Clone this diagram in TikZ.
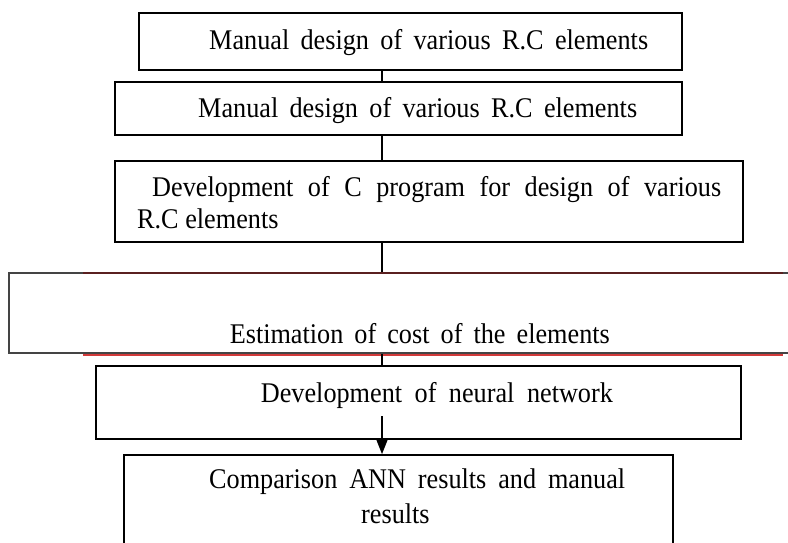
\documentclass[tikz,border=0pt]{standalone}
\usepackage{fontspec}
\setmainfont[FakeStretch=0.92]{Liberation Serif}
\usetikzlibrary{arrows.meta}
\definecolor{edgegrey}{HTML}{444444}
\definecolor{darkred}{HTML}{5A2020}
\definecolor{lightred}{HTML}{D23A3A}
\begin{document}
\begin{tikzpicture}[x=1pt,y=-1pt,
  box/.style={draw=black,line width=1.5pt,rectangle,inner sep=0pt},
  greybox/.style={draw=edgegrey,line width=1.3pt,rectangle,inner sep=0pt},
  txt/.style={anchor=base west,inner sep=0pt,font=\fontsize{28.5}{32}\selectfont},
  conn/.style={draw=black,line width=2pt}]
\useasboundingbox (0,0) rectangle (788,542);
\clip (0,0) rectangle (788,542);
% boxes
\node[box,minimum width=543pt,minimum height=57pt] (b1) at (410.5,41.5) {};
\node[box,minimum width=567pt,minimum height=53pt] (b2) at (398.5,108.5) {};
\node[box,minimum width=628pt,minimum height=81pt] (b3) at (429,201.5) {};
\node[greybox,minimum width=790pt,minimum height=80pt] (b4) at (404,313) {};
\node[box,minimum width=645pt,minimum height=73pt] (b5) at (418.5,402.5) {};
\node[box,minimum width=549pt,minimum height=120pt] (b6) at (398.5,515) {};
% red lines along box 4
\draw[darkred,line width=1.2pt] (83,273) -- (783,273);
\draw[lightred,line width=1.5pt] (83,354.8) -- (783,354.8);
% texts
\node[txt] (t1) at (209,49) {\makebox[439pt][s]{Manual design of various R.C elements}};
\node[txt] (t2) at (198,117.5) {\makebox[439pt][s]{Manual design of various R.C elements}};
\node[txt] (t3a) at (152,196) {\makebox[569pt][s]{Development of C program for design of various}};
\node[txt] (t3b) at (137,228) {R.C elements};
\node[txt] (t4) at (229.6,343) {\makebox[380pt][s]{Estimation of cost of the elements}};
\node[txt] (t5) at (260.7,402) {\makebox[352pt][s]{Development of neural network}};
\node[txt] (t6a) at (209,488) {\makebox[416pt][s]{Comparison ANN results and manual}};
\node[txt] (t6b) at (361,523) {results};
% connectors
\coordinate (cx) at (382,0);
\draw[conn] (b1.south -| cx) -- (b2.north -| cx);
\draw[conn] (b2.south -| cx) -- (b3.north -| cx);
\draw[conn] (b3.south -| cx) -- (b4.north -| cx);
\draw[conn] (b4.south -| cx) -- (b5.north -| cx);
\coordinate (a5) at (382,416);
\draw[conn,-{Triangle[width=12pt,length=16pt]}] (a5) -- (b6.north -| cx);
\end{tikzpicture}
\end{document}
